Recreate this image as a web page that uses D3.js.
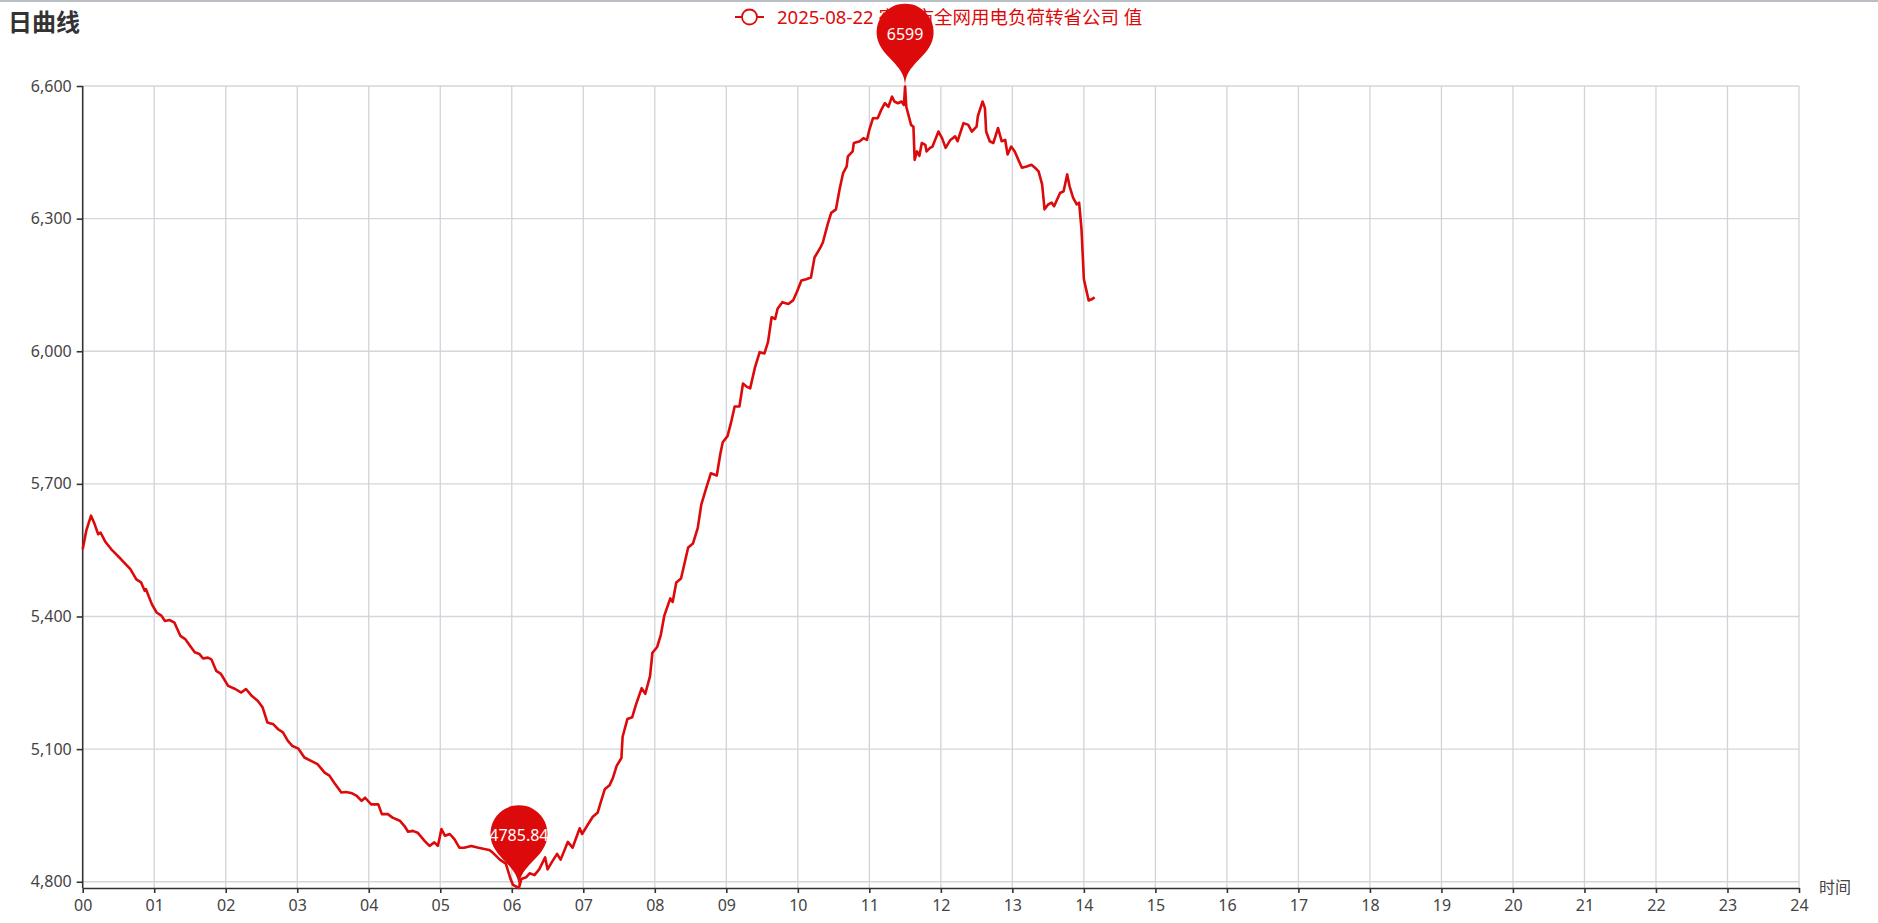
<!DOCTYPE html>
<html><head><meta charset="utf-8">
<script src="https://cdn.jsdelivr.net/npm/d3@7"></script>
<style>
body{margin:0;background:#fff}
svg{display:block}
text{font-family:"Noto Sans","Noto Sans CJK SC",sans-serif}
</style>
</head><body>
<svg id="chart" width="1878" height="923"></svg>
<script>
const chartTitle = "日曲线";
const seriesName = "2025-08-22 宿迁市全网用电负荷转省公司 值";
const xAxisName = "时间";
const hourLabels = ["00","01","02","03","04","05","06","07","08","09","10","11","12","13","14","15","16","17","18","19","20","21","22","23","24"];
const yTicks = [4800, 5100, 5400, 5700, 6000, 6300, 6600];
// minutes since 00:00
const minutes = [0,3,7,10,13,15,19,24,32,40,45,49,52,53,58,62,66,69,73,77,82,86,90,94,98,101,105,108,112,116,122,128,133,137,142,147,151,155,160,164,168,172,176,181,186,192,197,203,207,211,217,221,226,230,234,237,242,248,251,256,260,266,270,273,277,281,287,291,295,298,301,304,308,312,316,320,326,332,337,341,344,350,355,359,361,366,368,372,375,379,383,388,390,394,398,401,407,411,417,419,424,428,432,435,438,442,445,448,452,453,457,461,464,469,472,476,478,482,485,488,493,495,498,502,505,508,512,516,519,523,527,532,535,537,541,544,547,551,554,557,560,564,568,572,575,578,581,583,587,592,596,599,603,607,611,614,619,621,625,628,632,635,638,641,642,646,647,652,655,658,660,663,667,670,673,676,679,681,684,687,689,690,691,695,697,698,700,702,704,707,708,711,713,718,721,724,728,732,734,739,743,746,750,751,755,757,758,761,764,768,771,774,776,779,782,785,788,792,796,799,802,805,807,810,813,815,820,823,826,828,831,834,836,838,840,844,847,849];
const loads = [5552,5594,5628,5609,5586,5590,5569,5552,5530,5507,5484,5477,5458,5462,5428,5409,5402,5390,5392,5386,5356,5349,5334,5319,5315,5305,5307,5303,5277,5270,5243,5236,5228,5236,5220,5209,5194,5160,5156,5145,5138,5119,5107,5101,5081,5073,5066,5047,5040,5024,5002,5003,5000,4994,4983,4990,4975,4975,4953,4953,4945,4938,4926,4913,4915,4911,4892,4881,4889,4881,4919,4904,4908,4896,4877,4877,4881,4877,4874,4872,4866,4850,4841,4806,4793,4785.84,4806,4810,4819,4815,4828,4855,4828,4846,4863,4850,4890,4877,4921,4908,4930,4947,4956,4983,5009,5018,5036,5062,5080,5128,5168,5172,5199,5238,5225,5265,5318,5331,5358,5402,5441,5433,5477,5486,5521,5556,5565,5600,5653,5689,5724,5719,5768,5794,5808,5839,5875,5875,5927,5920,5916,5963,5998,5995,6021,6077,6073,6096,6111,6107,6115,6133,6160,6163,6167,6212,6235,6246,6287,6313,6321,6366,6403,6418,6441,6452,6471,6475,6482,6478,6501,6527,6527,6546,6561,6553,6576,6565,6561,6565,6557,6599,6553,6512,6508,6433,6452,6442,6471,6467,6452,6460,6463,6497,6482,6460,6478,6486,6475,6516,6512,6497,6508,6531,6565,6550,6497,6475,6471,6505,6475,6478,6445,6463,6452,6433,6415,6418,6422,6415,6407,6377,6321,6332,6336,6328,6358,6362,6400,6373,6347,6332,6336,6276,6163,6115,6118,6122];

const RED = "#dc0a0a";
const svg = d3.select("#chart");
const W = 1878, H = 923;
const L = 82.7, R = 1799, T = 86, B = 888;

const x = d3.scaleLinear().domain([0, 1440]).range([L, R]);
const y = d3.scaleLinear().domain([d3.min(loads), yTicks[yTicks.length - 1]]).range([B, T]);
const hourTicks = hourLabels.map((d, i) => i * 60);

// top border
svg.append("line").attr("x1", 0).attr("x2", W).attr("y1", 1).attr("y2", 1)
  .attr("stroke", "#b9bec4").attr("stroke-width", 2);

// grid
const grid = svg.append("g");
grid.selectAll(".hg").data(yTicks).join("line")
  .attr("x1", L).attr("x2", R).attr("y1", d => y(d)).attr("y2", d => y(d))
  .attr("stroke", "#d3d6da").attr("stroke-width", 1.3);
grid.selectAll(".vg").data(hourTicks.slice(1)).join("line")
  .attr("x1", d => x(d)).attr("x2", d => x(d)).attr("y1", T).attr("y2", B)
  .attr("stroke", "#d0d4da").attr("stroke-width", 1.3);

// axes
const yAxis = svg.append("g").attr("transform", `translate(${L},0)`)
  .call(d3.axisLeft(y).tickValues(yTicks).tickFormat(d3.format(",")).tickSize(6).tickSizeOuter(0).tickPadding(5));
const xAxis = svg.append("g").attr("transform", `translate(0,${B})`)
  .call(d3.axisBottom(x).tickValues(hourTicks).tickFormat((d, i) => hourLabels[i]).tickSize(5).tickSizeOuter(0).tickPadding(7));
[yAxis, xAxis].forEach(a => {
  a.select(".domain").attr("stroke", "#333").attr("stroke-width", 1.6);
  a.selectAll(".tick line").attr("stroke", "#333").attr("stroke-width", 1.6);
  a.selectAll(".tick text").attr("fill", "#444").style("font-size", "16px")
    .style("font-family", '"Noto Sans","Noto Sans CJK SC",sans-serif');
});
yAxis.select(".domain").attr("d", `M0,${B}V${T}`);

svg.append("text").attr("x", 1819).attr("y", 893).text(xAxisName)
  .attr("fill", "#444").style("font-size", "16px");

// line
const line = d3.line().x((d, i) => x(minutes[i])).y(d => y(d));
svg.append("path").datum(loads).attr("d", line)
  .attr("fill", "none").attr("stroke", RED).attr("stroke-width", 2.6)
  .attr("stroke-linejoin", "round");

// title
svg.append("text").attr("x", 8).attr("y", 31).text(chartTitle)
  .attr("fill", "#333").style("font-size", "24px").style("font-weight", "bold");

// legend
const lg = svg.append("g");
lg.append("line").attr("x1", 735).attr("x2", 764).attr("y1", 17).attr("y2", 17)
  .attr("stroke", RED).attr("stroke-width", 2);
lg.append("circle").attr("cx", 749.5).attr("cy", 17).attr("r", 7.5)
  .attr("fill", "#fff").attr("stroke", RED).attr("stroke-width", 1.8);
lg.append("text").attr("x", 777).attr("y", 23.5).text(seriesName)
  .attr("fill", RED).style("font-size", "18.5px");

// pins (ECharts-style)
function pinPath(px, py, w0, h0) {
  const w = w0, h = Math.max(w, h0), r = w / 2;
  const dy = r * r / (h - r);
  const cy = py - h + r + dy;
  const angle = Math.asin(dy / r);
  const dx = Math.cos(angle) * r;
  const tanX = Math.sin(angle), tanY = Math.cos(angle);
  const cp = r * 0.6, cp2 = r * 0.7;
  const p = d3.path();
  p.moveTo(px - dx, cy + dy);
  p.arc(px, cy, r, Math.PI - angle, Math.PI * 2 + angle);
  p.bezierCurveTo(px + dx - tanX * cp, cy + dy + tanY * cp, px, py - cp2, px, py);
  p.bezierCurveTo(px, py - cp2, px - dx + tanX * cp, cy + dy + tanY * cp, px - dx, cy + dy);
  p.closePath();
  return {d: p.toString(), cy};
}
const iMax = d3.maxIndex(loads), iMin = d3.minIndex(loads);
[iMax, iMin].forEach(i => {
  const px = x(minutes[i]), py = y(loads[i]);
  const pp = pinPath(px, py, 57, 95);
  svg.append("path").attr("d", pp.d).attr("fill", RED);
  svg.append("text").attr("x", px).attr("y", pp.cy + 2).attr("dy", "0.35em")
    .attr("text-anchor", "middle").attr("fill", "#fff").style("font-size", "16px")
    .text(String(loads[i]));
});
</script>
</body></html>
